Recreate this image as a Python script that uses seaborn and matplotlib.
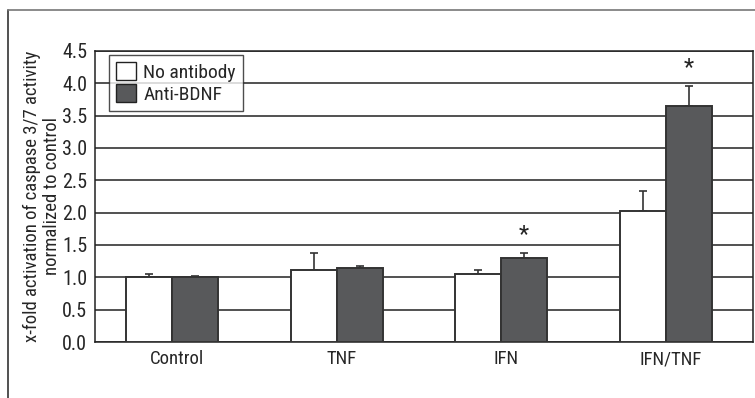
import matplotlib
matplotlib.use("Agg")
import matplotlib.pyplot as plt
from matplotlib import font_manager
import seaborn as sns
import pandas as pd
import numpy as np

categories = ["Control", "TNF", "IFN", "IFN/TNF"]
groups = ["No antibody", "Anti-BDNF"]
no_antibody = [1.01, 1.11, 1.05, 2.02]
no_antibody_err = [0.045, 0.27, 0.07, 0.32]
anti_bdnf = [1.01, 1.15, 1.30, 3.65]
anti_bdnf_err = [0.01, 0.03, 0.08, 0.31]
star_labels = ["", "", "*", "*"]

df = pd.DataFrame({
    "cat": categories * 2,
    "group": [groups[0]] * 4 + [groups[1]] * 4,
    "value": no_antibody + anti_bdnf,
})

sns.set_style("white")
names = {f.name for f in font_manager.fontManager.ttflist}
narrow = [n for n in ["Liberation Sans Narrow", "Roboto Condensed", "Open Sans Condensed"] if n in names]
plt.rcParams["font.family"] = narrow + ["DejaVu Sans"]
plt.rcParams["font.stretch"] = "condensed"

fig = plt.figure(figsize=(7.55, 3.98), dpi=100)
ax = fig.add_axes([0.1258, 0.1407, 0.8712, 0.7312])

sns.barplot(data=df, x="cat", y="value", hue="group", order=categories,
            hue_order=groups, palette=["white", "#58595b"], errorbar=None,
            width=0.56, edgecolor="#333333", linewidth=1.4, ax=ax, zorder=3)

# the groups sit a little left of the category centre in the original
patches = [p for p in ax.patches if p.get_height() > 0]
for p in patches:
    p.set_x(p.get_x() - 0.03)

# upward-only error bars centred on each bar
errs = no_antibody_err + anti_bdnf_err
for p, e in zip(patches, errs):
    xc = p.get_x() + p.get_width() / 2
    h = p.get_height()
    ax.errorbar(xc, h, yerr=[[0], [e]], fmt="none", ecolor="#333333",
                elinewidth=1.2, capsize=2.6, capthick=1.2, zorder=2)

# significance stars over the anti-BDNF bars
for p, e, s in zip(patches[4:], anti_bdnf_err, star_labels):
    if s:
        xc = p.get_x() + p.get_width() / 2
        ax.text(xc, p.get_height() + e + 0.1, s, ha="center", va="bottom",
                fontsize=17, color="#222222")

ax.set_ylim(0, 4.5)
ax.set_xlim(-0.5, 3.5)
ax.set_yticks(np.arange(0, 4.51, 0.5))
ax.set_yticklabels([f"{v:.1f}" for v in np.arange(0, 4.51, 0.5)], fontsize=14.5)
ax.yaxis.grid(True, color="#222222", linewidth=1.1, zorder=0)
ax.set_axisbelow(True)
ax.tick_params(axis="y", direction="inout", length=9, width=1, color="#222222", pad=1)
ax.set_xticks(range(4))
ax.set_xticklabels(categories, fontsize=13.5)
ax.tick_params(axis="x", length=0, pad=6)
ax.set_xticks(np.arange(-0.5, 3.6, 1), minor=True)
ax.tick_params(axis="x", which="minor", direction="out", length=4, width=1, color="#222222")
ax.set_xlabel("")
ax.set_ylabel("x-fold activation of caspase 3/7 activity\nnormalized to control",
              fontsize=13.5, linespacing=1.15, labelpad=1)
for sp in ax.spines.values():
    sp.set_visible(True)
    sp.set_color("#222222")
    sp.set_linewidth(1.1)

leg = ax.legend(loc="upper left", bbox_to_anchor=(0.022, 0.985), fontsize=14,
                frameon=True, fancybox=False, edgecolor="#222222",
                handlelength=1.0, handleheight=1.0, handletextpad=0.4,
                borderpad=0.35, labelspacing=0.15, borderaxespad=0)
leg.get_frame().set_linewidth(1.0)
for h in leg.legend_handles:
    h.set_edgecolor("#222222")
    h.set_linewidth(1.0)

# outer frame, open at right and bottom
fig.add_artist(plt.Line2D([8 / 755, 8 / 755], [0, 1 - 10 / 398], color="#333333", lw=1.2))
fig.add_artist(plt.Line2D([8 / 755, 1], [1 - 10 / 398, 1 - 10 / 398], color="#777777", lw=1.2))

fig.savefig("out.png", dpi=100)
